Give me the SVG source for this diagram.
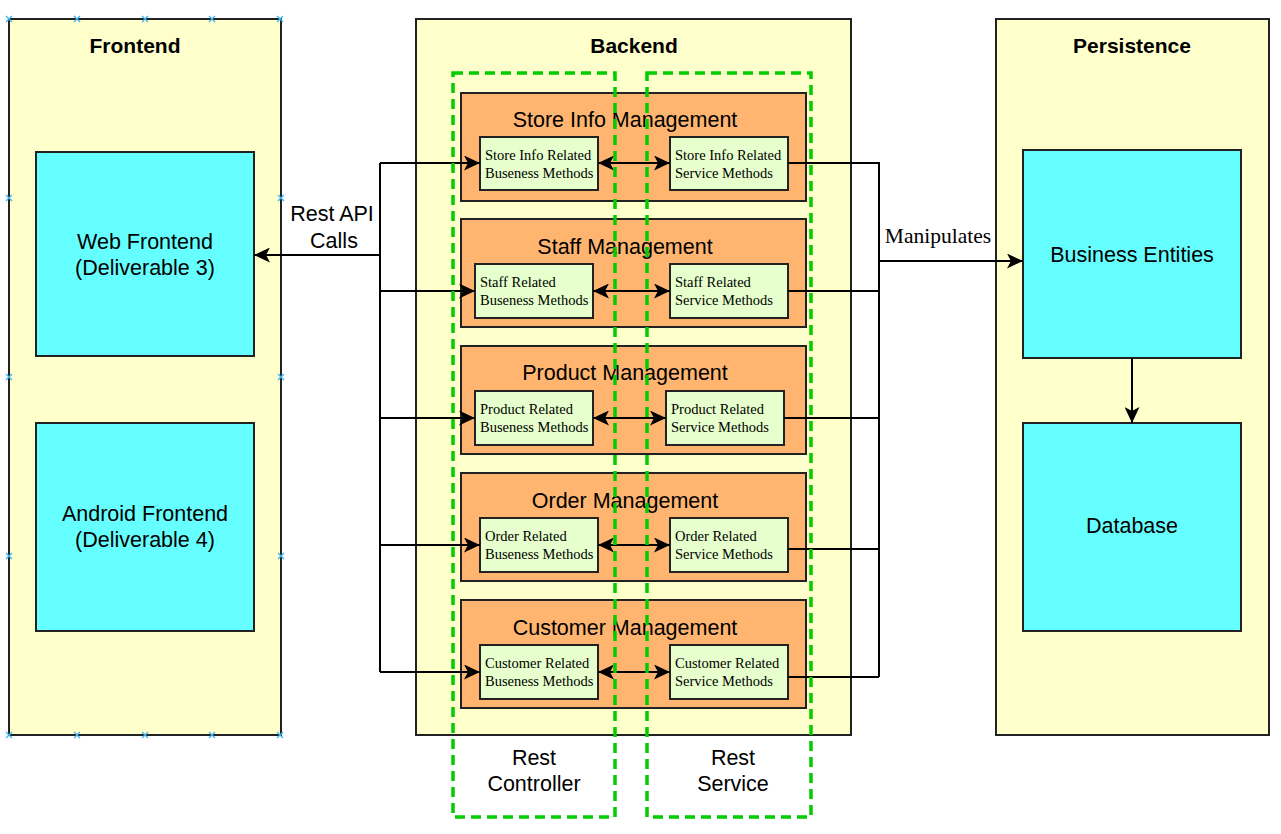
<svg xmlns="http://www.w3.org/2000/svg" width="1281" height="834" viewBox="0 0 1281 834">
<defs>
<style>
.cont{fill:#FFFFCC;stroke:#222;stroke-width:2}
.cyan{fill:#66FFFF;stroke:#222;stroke-width:2}
.mgmt{fill:#FFB570;stroke:#222;stroke-width:2}
.inner{fill:#E6FFCC;stroke:#222;stroke-width:2}
.dash{fill:none;stroke:#00CC00;stroke-width:3.5;stroke-dasharray:10 6}
.title{font-family:"Liberation Sans",Arial,sans-serif;font-weight:bold;font-size:21px;text-anchor:middle;fill:#000}
.lbl{font-family:"Liberation Sans",Arial,sans-serif;font-size:21.5px;text-anchor:middle;fill:#000}
.small{font-family:"Liberation Serif","Times New Roman",serif;font-size:14.5px;fill:#000}
.serif{font-family:"Liberation Serif","Times New Roman",serif;font-size:21.5px;text-anchor:middle;fill:#000}
.ln{fill:none;stroke:#000;stroke-width:2}
.xm{stroke:#3BB4F0;stroke-width:1.3}
</style>
<marker id="ah" markerUnits="userSpaceOnUse" markerWidth="17" markerHeight="15" refX="16" refY="7.5" orient="auto-start-reverse">
<path d="M0,0 L16,7.5 L0,15 L4,7.5 z" fill="#000"/>
</marker>
</defs>

<g id="frontend">
<rect class="cont" x="9" y="19" width="272" height="716"/>
<text class="title" x="135" y="53">Frontend</text>
</g>
<g id="frontend-points">
<path class="xm" d="M6,16l6,6M12,16l-6,6 M74,16l6,6M80,16l-6,6 M142,16l6,6M148,16l-6,6 M209,16l6,6M215,16l-6,6 M277,16l6,6M283,16l-6,6
M6,732l6,6M12,732l-6,6 M74,732l6,6M80,732l-6,6 M142,732l6,6M148,732l-6,6 M209,732l6,6M215,732l-6,6 M277,732l6,6M283,732l-6,6
M6,195l6,6M12,195l-6,6 M6,374l6,6M12,374l-6,6 M6,553l6,6M12,553l-6,6
M278,195l6,6M284,195l-6,6 M278,374l6,6M284,374l-6,6 M278,553l6,6M284,553l-6,6"/>
</g>
<g id="web-frontend">
<rect class="cyan" x="36" y="152" width="218" height="204"/>
<text class="lbl" x="145" y="249">Web Frontend</text>
<text class="lbl" x="145" y="275">(Deliverable 3)</text>
</g>
<g id="android-frontend">
<rect class="cyan" x="36" y="423" width="218" height="208"/>
<text class="lbl" x="145" y="521">Android Frontend</text>
<text class="lbl" x="145" y="547">(Deliverable 4)</text>
</g>

<g id="backend">
<rect class="cont" x="416" y="19" width="435" height="716"/>
<text class="title" x="634" y="53">Backend</text>
</g>

<g id="persistence">
<rect class="cont" x="996" y="19" width="273" height="716"/>
<text class="title" x="1132" y="53">Persistence</text>
</g>
<g id="business-entities">
<rect class="cyan" x="1023" y="150" width="218" height="208"/>
<text class="lbl" x="1132" y="262">Business Entities</text>
</g>
<g id="database">
<rect class="cyan" x="1023" y="423" width="218" height="208"/>
<text class="lbl" x="1132" y="533">Database</text>
</g>

<g id="store-info-management">
<rect class="mgmt" x="461" y="93" width="345" height="108"/>
<text class="lbl" x="625" y="127">Store Info Management</text>
<rect class="inner" x="480" y="137" width="118" height="53"/>
<text class="small" x="485" y="160">Store Info Related</text>
<text class="small" x="485" y="178">Buseness Methods</text>
<rect class="inner" x="670" y="137" width="118" height="53"/>
<text class="small" x="675" y="160">Store Info Related</text>
<text class="small" x="675" y="178">Service Methods</text>
</g>
<g id="staff-management">
<rect class="mgmt" x="461" y="219" width="345" height="108"/>
<text class="lbl" x="625" y="254">Staff Management</text>
<rect class="inner" x="475" y="264" width="118" height="54"/>
<text class="small" x="480" y="287">Staff Related</text>
<text class="small" x="480" y="305">Buseness Methods</text>
<rect class="inner" x="670" y="264" width="118" height="54"/>
<text class="small" x="675" y="287">Staff Related</text>
<text class="small" x="675" y="305">Service Methods</text>
</g>
<g id="product-management">
<rect class="mgmt" x="461" y="346" width="345" height="108"/>
<text class="lbl" x="625" y="380">Product Management</text>
<rect class="inner" x="475" y="391" width="118" height="54"/>
<text class="small" x="480" y="414">Product Related</text>
<text class="small" x="480" y="432">Buseness Methods</text>
<rect class="inner" x="666" y="391" width="118" height="54"/>
<text class="small" x="671" y="414">Product Related</text>
<text class="small" x="671" y="432">Service Methods</text>
</g>
<g id="order-management">
<rect class="mgmt" x="461" y="473" width="345" height="108"/>
<text class="lbl" x="625" y="508">Order Management</text>
<rect class="inner" x="480" y="518" width="118" height="54"/>
<text class="small" x="485" y="541">Order Related</text>
<text class="small" x="485" y="559">Buseness Methods</text>
<rect class="inner" x="670" y="518" width="118" height="54"/>
<text class="small" x="675" y="541">Order Related</text>
<text class="small" x="675" y="559">Service Methods</text>
</g>
<g id="customer-management">
<rect class="mgmt" x="461" y="600" width="345" height="108"/>
<text class="lbl" x="625" y="635">Customer Management</text>
<rect class="inner" x="480" y="645" width="118" height="54"/>
<text class="small" x="485" y="668">Customer Related</text>
<text class="small" x="485" y="686">Buseness Methods</text>
<rect class="inner" x="670" y="645" width="118" height="54"/>
<text class="small" x="675" y="668">Customer Related</text>
<text class="small" x="675" y="686">Service Methods</text>
</g>

<g id="connectors">
<path class="ln" d="M380,163 V672"/>
<path class="ln" marker-end="url(#ah)" d="M380,255 H254"/>
<path class="ln" marker-end="url(#ah)" d="M380,163 H480"/>
<path class="ln" marker-end="url(#ah)" d="M380,291 H475"/>
<path class="ln" marker-end="url(#ah)" d="M380,418 H475"/>
<path class="ln" marker-end="url(#ah)" d="M380,545 H480"/>
<path class="ln" marker-end="url(#ah)" d="M380,672 H480"/>
<path class="ln" marker-start="url(#ah)" marker-end="url(#ah)" d="M598,163 H670"/>
<path class="ln" marker-start="url(#ah)" marker-end="url(#ah)" d="M593,291 H670"/>
<path class="ln" marker-start="url(#ah)" marker-end="url(#ah)" d="M593,418 H666"/>
<path class="ln" marker-start="url(#ah)" marker-end="url(#ah)" d="M598,545 H670"/>
<path class="ln" marker-start="url(#ah)" marker-end="url(#ah)" d="M598,672 H670"/>
<path class="ln" d="M788,163 H879 V677 M788,291 H879 M784,418 H879 M788,549 H879 M788,677 H879"/>
<path class="ln" marker-end="url(#ah)" d="M879,261 H1023"/>
<path class="ln" marker-end="url(#ah)" d="M1132,358 V423"/>
<text class="lbl" x="332" y="221">Rest API</text>
<text class="lbl" x="334" y="248">Calls</text>
<text class="serif" x="938" y="243">Manipulates</text>
</g>

<g id="rest-controller">
<rect class="dash" x="453" y="73" width="162" height="744"/>
<text class="lbl" x="534" y="765">Rest</text>
<text class="lbl" x="534" y="791">Controller</text>
</g>
<g id="rest-service">
<rect class="dash" x="647" y="73" width="164" height="744"/>
<text class="lbl" x="733" y="765">Rest</text>
<text class="lbl" x="733" y="791">Service</text>
</g>
</svg>
